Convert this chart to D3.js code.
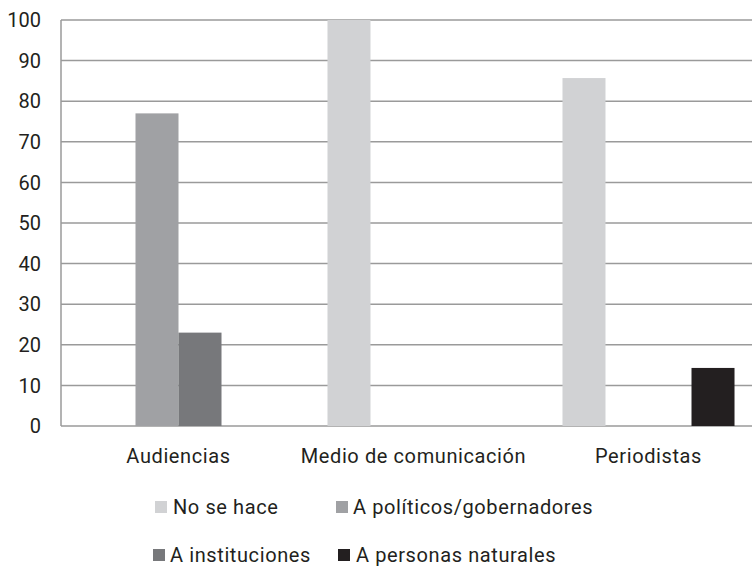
<!DOCTYPE html>
<html>
<head>
<meta charset="utf-8">
<script src="https://d3js.org/d3.v7.min.js"></script>
<style>
  body { margin: 0; background: #fff; }
  svg text { font-family: Roboto, "Open Sans", sans-serif; fill: #231f20; letter-spacing: 0.6px; }
</style>
</head>
<body>
<div id="chart"></div>
<script>
// data
let categories = ["Audiencias", "Medio de comunicación", "Periodistas"]
let seriesNames = ["No se hace", "A políticos/gobernadores", "A instituciones", "A personas naturales"]
let noSeHace = [0, 100, 85.7]
let politicos = [77, 0, 0]
let instituciones = [23, 0, 0]
let personas = [0, 0, 14.3]
let yTicks = [0, 10, 20, 30, 40, 50, 60, 70, 80, 90, 100]
let colors = ["#d1d2d4", "#a0a1a4", "#77787b", "#231f20"]

let allSeries = [noSeHace, politicos, instituciones, personas]

let width = 752, height = 566

let svg = d3.select("#chart")
  .append("svg")
  .attr("width", width)
  .attr("height", height)

// plot runs past the right edge of the picture, like the original
let x = d3.scaleBand()
  .domain(categories)
  .range([61, 766])
  .paddingInner(0.268)
  .paddingOuter(0.134)

let x1 = d3.scaleBand()
  .domain(seriesNames)
  .range([0, x.bandwidth()])

let y = d3.scaleLinear()
  .domain([0, 100])
  .range([426, 20])

// gridlines
svg.append("g")
  .selectAll("line")
  .data(yTicks)
  .enter()
  .append("line")
  .attr("x1", 61)
  .attr("x2", 766)
  .attr("y1", d => y(d))
  .attr("y2", d => y(d))
  .style("stroke", "#9a9a9a")
  .style("stroke-width", 1.5)

// y labels
svg.append("g")
  .selectAll("text")
  .data(yTicks)
  .enter()
  .append("text")
  .attr("x", 41)
  .attr("y", d => y(d))
  .attr("dy", "0.36em")
  .style("text-anchor", "end")
  .style("font-size", "20px")
  .style("letter-spacing", "0px")
  .text(d => d)

// bars
let rows = []
categories.forEach((c, i) => {
  seriesNames.forEach((s, j) => {
    rows.push({cat: c, series: s, value: allSeries[j][i], color: colors[j]})
  })
})

svg.append("g")
  .selectAll("rect")
  .data(rows.filter(d => d.value > 0))
  .enter()
  .append("rect")
  .attr("x", d => x(d.cat) + x1(d.series))
  .attr("y", d => y(d.value))
  .attr("width", x1.bandwidth())
  .attr("height", d => y(0) - y(d.value))
  .style("fill", d => d.color)

// left axis line
svg.append("line")
  .attr("x1", 61).attr("x2", 61)
  .attr("y1", y(100)).attr("y2", y(0))
  .style("stroke", "#9a9a9a")
  .style("stroke-width", 1.5)

// category labels
svg.append("g")
  .selectAll("text")
  .data(categories)
  .enter()
  .append("text")
  .attr("x", d => x(d) + x.bandwidth() / 2)
  .attr("y", 463)
  .style("text-anchor", "middle")
  .style("font-size", "20px")
  .text(d => d)

// legend
let legendPos = [[155, 507], [336, 507], [153, 555], [338, 555]]
let legend = svg.append("g")
  .selectAll("g")
  .data(seriesNames)
  .enter()
  .append("g")
  .attr("transform", (d, i) => "translate(" + legendPos[i][0] + "," + legendPos[i][1] + ")")

legend.append("rect")
  .attr("x", 0)
  .attr("y", -6)
  .attr("width", 12)
  .attr("height", 12)
  .style("fill", (d, i) => colors[i])

legend.append("text")
  .attr("x", (d, i) => [18, 17, 17, 18][i])
  .attr("y", 0)
  .attr("dy", "0.36em")
  .style("font-size", "20px")
  .text(d => d)
</script>
</body>
</html>
